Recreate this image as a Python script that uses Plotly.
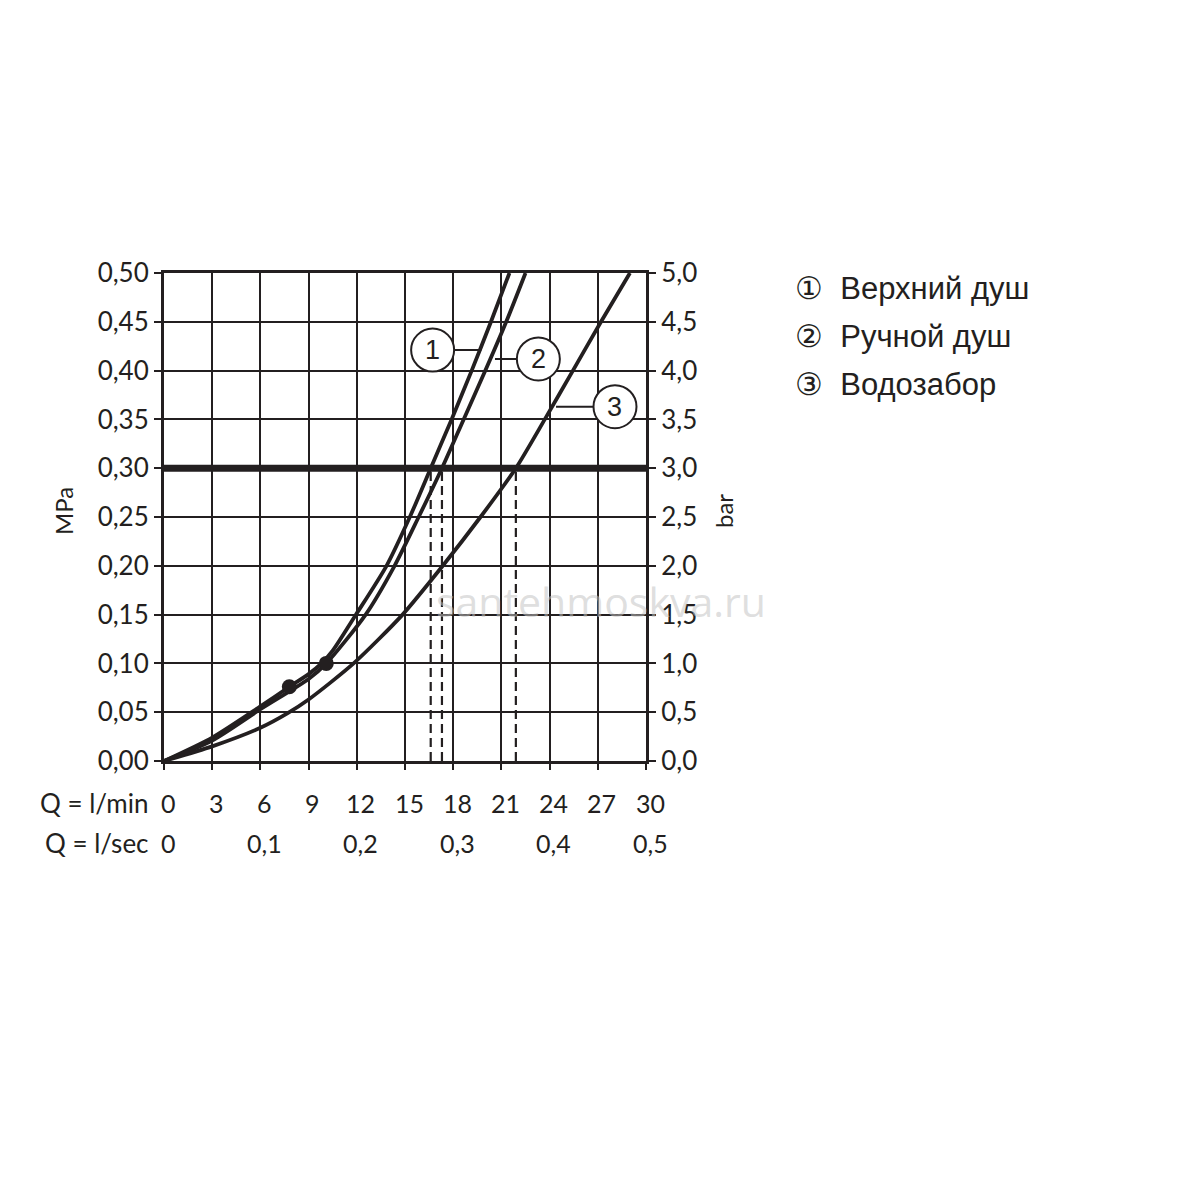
import plotly.graph_objects as go

# flow in l/min, pressure in MPa
q_top = [0, 3, 6, 7.8, 9, 9.8, 10.5, 11.95, 13.85, 15.3, 16.6, 17.9, 19.15, 20.35, 21.5]
p_top = [0, 0.024, 0.056, 0.076, 0.089, 0.10, 0.113, 0.15, 0.20, 0.25, 0.30, 0.35, 0.40, 0.45, 0.50]

q_hand = [0, 3, 6, 9, 10.1, 12.55, 14.35, 15.85, 17.3, 18.65, 20.0, 21.3, 22.5]
p_hand = [0, 0.021, 0.053, 0.084, 0.10, 0.15, 0.20, 0.25, 0.30, 0.35, 0.40, 0.45, 0.50]

q_tap = [0, 3, 6, 7.7, 9, 11.8, 14.85, 17.35, 19.7, 21.9, 23.7, 25.45, 27.2, 29.0]
p_tap = [0, 0.015, 0.034, 0.049, 0.063, 0.10, 0.15, 0.20, 0.25, 0.30, 0.35, 0.40, 0.45, 0.50]

dot_q = [7.8, 10.1]
dot_p = [0.076, 0.10]

p_nominal = 0.30

# circled curve labels
curve_ids = ['1', '2', '3']
curve_names = ['Верхний душ', 'Ручной душ', 'Водозабор']
circled = ['①', '②', '③']
label_q = [16.72, 23.3, 28.07]
label_p = [0.421, 0.412, 0.363]
leader_q = [19.75, 20.6, 24.4]

lmin_ticks = [0, 3, 6, 9, 12, 15, 18, 21, 24, 27, 30]
lsec_ticks = [0, 0.1, 0.2, 0.3, 0.4, 0.5]

ink = '#231f20'
axis_font = 'Lato, "Open Sans", sans-serif'
text_font = '"Liberation Sans", Arial, sans-serif'

fig = go.Figure()

for q, p in [(q_top, p_top), (q_hand, p_hand), (q_tap, p_tap)]:
    fig.add_trace(go.Scatter(x=q, y=p, mode='lines',
                             line=dict(color=ink, width=3.8, shape='spline', smoothing=0.7),
                             showlegend=False, hoverinfo='skip'))

# dashed drop lines at the 0.30 MPa working point
for q, p in [(q_top, p_top), (q_hand, p_hand), (q_tap, p_tap)]:
    qx = q[p.index(p_nominal)]
    fig.add_trace(go.Scatter(x=[qx, qx], y=[0, p_nominal], mode='lines',
                             line=dict(color=ink, width=2.2, dash='9px,5px'),
                             showlegend=False, hoverinfo='skip'))

fig.add_trace(go.Scatter(x=dot_q, y=dot_p, mode='markers',
                         marker=dict(color=ink, size=15),
                         showlegend=False, hoverinfo='skip'))

# invisible trace so the bar axis is drawn
fig.add_trace(go.Scatter(x=[0], y=[0], yaxis='y2', mode='markers',
                         marker=dict(opacity=0), showlegend=False, hoverinfo='skip'))

shapes = [dict(type='line', xref='x', yref='y', x0=0, x1=30, y0=p_nominal, y1=p_nominal,
               line=dict(color=ink, width=7), layer='above')]
for cid, cq, cp, lq in zip(curve_ids, label_q, label_p, leader_q):
    shapes.append(dict(type='line', xref='x', yref='y', x0=lq, x1=cq, y0=cp, y1=cp,
                       line=dict(color=ink, width=2), layer='above'))
    shapes.append(dict(type='circle', xref='x', yref='y', xsizemode='pixel', ysizemode='pixel',
                       xanchor=cq, yanchor=cp, x0=-21.5, x1=21.5, y0=-21.5, y1=21.5,
                       fillcolor='white', line=dict(color=ink, width=2), layer='above'))

annotations = []
for cid, cq, cp in zip(curve_ids, label_q, label_p):
    annotations.append(dict(x=cq, y=cp, xref='x', yref='y', text=cid, showarrow=False,
                            font=dict(family=text_font, size=27, color=ink)))

# legend text on the right
for i, (c, name) in enumerate(zip(circled, curve_names)):
    annotations.append(dict(x=1, y=(760 - 287 - 48 * i) / 488, xref='paper', yref='paper',
                            xanchor='left', yanchor='middle', xshift=147, showarrow=False,
                            text=c + '  ' + name,
                            font=dict(family=text_font, size=31, color=ink)))

# flow scales under the plot
for v in lmin_ticks:
    annotations.append(dict(x=v, y=0, xref='x', yref='paper', xanchor='center', yanchor='middle',
                            yshift=-42, xshift=4, showarrow=False, text=str(v),
                            font=dict(family=axis_font, size=25, color=ink)))
for v in lsec_ticks:
    annotations.append(dict(x=v * 60, y=0, xref='x', yref='paper', xanchor='center',
                            yanchor='middle', yshift=-82, xshift=4, showarrow=False,
                            text=('%g' % v).replace('.', ','),
                            font=dict(family=axis_font, size=25, color=ink)))
for txt, dy in [('Q = l/min', -42), ('Q = l/sec', -82)]:
    annotations.append(dict(x=0, y=0, xref='paper', yref='paper', xanchor='right',
                            yanchor='middle', xshift=-13, yshift=dy, showarrow=False, text=txt,
                            font=dict(family=axis_font, size=26, color=ink)))

annotations.append(dict(x=0, y=0.5, xref='paper', yref='paper', xanchor='center',
                        yanchor='middle', xshift=-101, yshift=6, textangle=-90,
                        showarrow=False, text='MPa',
                        font=dict(family=axis_font, size=24, color=ink)))
annotations.append(dict(x=1, y=0.5, xref='paper', yref='paper', xanchor='center',
                        yanchor='middle', xshift=77, yshift=6, textangle=-90,
                        showarrow=False, text='bar',
                        font=dict(family=axis_font, size=24, color=ink)))

# watermark
annotations.append(dict(x=(600 - 163) / 482, y=(760 - 600) / 488, xref='paper', yref='paper',
                        xanchor='center', yanchor='middle', showarrow=False,
                        text='santehmoskva.ru',
                        font=dict(family='"Open Sans", sans-serif', size=41,
                                  color='rgba(195,195,195,0.55)')))

fig.update_layout(
    width=1200, height=1200,
    margin=dict(l=156, r=562, t=265, b=447),
    paper_bgcolor='white', plot_bgcolor='white',
    separators=', ',
    showlegend=False,
    shapes=shapes,
    annotations=annotations,
    xaxis=dict(range=[0, 30], dtick=3, tick0=0, showgrid=True, gridcolor=ink, gridwidth=2,
               zeroline=False, showline=True, mirror=True, linecolor=ink, linewidth=3,
               ticks='outside', ticklen=6, tickwidth=2, tickcolor=ink, showticklabels=False),
    yaxis=dict(range=[0, 0.5], dtick=0.05, tick0=0, tickformat='.2f', showgrid=True,
               gridcolor=ink, gridwidth=2, zeroline=False, showline=True, mirror=True,
               linecolor=ink, linewidth=3, ticks='outside', ticklen=7, tickwidth=2,
               tickcolor=ink, tickfont=dict(family=axis_font, size=26, color=ink)),
    yaxis2=dict(range=[0, 5], dtick=0.5, tick0=0, tickformat='.1f', overlaying='y', side='right',
                showgrid=False, zeroline=False, showline=True, linecolor=ink, linewidth=3,
                ticks='outside', ticklen=7, tickwidth=2, tickcolor=ink,
                tickfont=dict(family=axis_font, size=26, color=ink)),
)

fig.write_html('out.html')
